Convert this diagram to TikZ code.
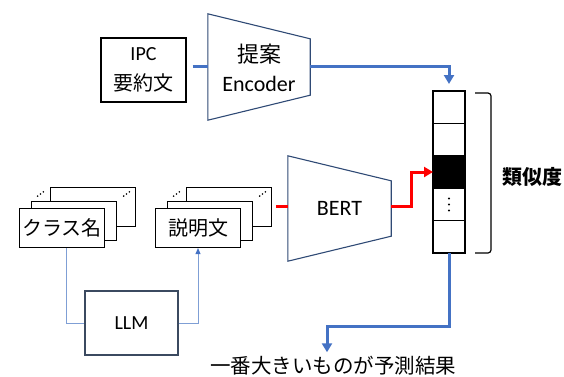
\documentclass[tikz,border=0pt]{standalone}
\usepackage{fontspec}
\setmainfont{Carlito}
\newfontfamily\jp{Noto Sans CJK JP}
\usepackage{tikz}
\usetikzlibrary{positioning,arrows.meta,calc}
\usepackage{xcolor}
\definecolor{lineblue}{HTML}{4472C4}
\definecolor{paleblue}{HTML}{7F9FD5}
\definecolor{trapblue}{HTML}{2F4A75}
\definecolor{slate}{HTML}{3B4A60}

\begin{document}
\begin{tikzpicture}[x=1pt, y=-1pt,
  doc/.style={draw, line width=1.1pt, fill=white, inner sep=0pt,
              minimum width=85pt, minimum height=39pt,
              font=\fontsize{20}{24}\selectfont\jp},
  plain/.style={inner sep=0pt, align=center, font=\fontsize{20}{30}\selectfont},
  big/.style={font=\fontsize{22}{29}\selectfont},
  cell/.style={draw, line width=1.1pt, inner sep=0pt, outer sep=0pt,
               minimum width=32pt, minimum height=32.4pt},
  trap/.style={draw=trapblue, line width=1.1pt, line join=miter},
  blueline/.style={lineblue, line width=3pt},
  bluearrow/.style={lineblue, line width=3pt, -{Triangle[length=9pt,width=10pt]}},
  redarrow/.style={red, line width=3pt, -{Triangle[length=9pt,width=10pt]}},
  thinline/.style={paleblue, line width=0.9pt},
  ]
  \useasboundingbox (0,0) rectangle (564,376);

  % query side
  \node[plain, draw, line width=1.1pt, minimum width=85pt, minimum height=64pt]
    (ipc) at (143.5,70) {IPC\\{\jp 要約文}};
  \node[plain, big, minimum width=102pt, minimum height=56pt] (enc) at (259,68)
    {{\jp 提案}\\Encoder};
  \draw[trap] ($(enc.north east)+(0,-1)$) -- ($(enc.south east)+(0,-1)$)
    -- ($(enc.south west)+(0,24)$) -- ($(enc.north west)+(0,-26)$) -- cycle;

  % class name / description stacks
  \coordinate (kpos) at (62,228);
  \coordinate (spos) at (198,228);
  \node[doc] (k3) at ($(kpos)+(31,-21)$) {};
  \node[doc] (k2) at ($(kpos)+(12,-7)$) {};
  \node[doc] (k1) at (kpos) {クラス名};
  \node[doc] (s3) at ($(spos)+(31,-21)$) {};
  \node[doc] (s2) at ($(spos)+(12,-7)$) {};
  \node[doc] (s1) at (spos) {説明文};
  \foreach \a/\b in {k2/k3, s2/s3} {
    \foreach \t in {0.35,0.5,0.65} {
      \fill ($(\a.north west)!\t!(\b.north west)$) circle (0.9pt);
      \fill ($(\a.north east)!\t!(\b.north east)$) circle (0.9pt);
    }
  }

  \node[plain, draw=slate, line width=1.1pt, minimum width=93pt, minimum height=64pt]
    (llm) at (131.5,323) {LLM};

  \node[plain, big, minimum width=103pt, minimum height=55pt] (bert) at (339.5,208.5) {BERT};
  \draw[trap] (bert.north east) -- (bert.south east) -- ($(bert.south west)+(0,25)$)
    -- ($(bert.north west)+(0,-25)$) -- cycle;

  % similarity vector
  \node[cell] (c1) at (449,107.2) {};
  \node[cell, below=0pt of c1] (c2) {};
  \node[cell, below=0pt of c2, fill=black] (c3) {};
  \node[cell, below=0pt of c3] (c4) {};
  \node[cell, below=0pt of c4] (c5) {};
  \foreach \d in {-6,0,6} \fill (c4.center) ++(0,\d) circle (1.1pt);

  \coordinate (b1) at ($(c1.north east)+(10,2)$);
  \coordinate (b2) at ($(c5.south east)+(10,0)$);
  \draw[line width=1.2pt, rounded corners=3pt] (b1) -- ++(16,0) |- (b2);
  \node[plain, font=\fontsize{20}{24}\selectfont\jp\bfseries] (sim) at (532,177) {類似度};

  \node[plain, font=\fontsize{20.5}{24}\selectfont\jp] (res) at (333,366) {一番大きいものが予測結果};

  % connectors
  \draw[blueline] ($(ipc.east |- enc.west)+(6,-2)$) -- ($(enc.west)+(0,-2)$);
  \draw[bluearrow] ($(enc.east)+(0,-2)$) -| ($(c1.north)+(0,-7)$);
  \draw[thinline] ([xshift=4pt]k1.south) |- (llm.west);
  \draw[thinline, -{Triangle[length=6pt,width=5pt,color=lineblue]}] (llm.east) -| (s1.south);
  \draw[red, line width=3pt] ($(s3.east)+(4,-1)$) -- ($(s3.east -| bert.west)+(0,-1)$);
  \draw[redarrow] ($(s3.east -| bert.east)+(0,-1)$) -- ++(20,0) |- (c3.west);
  \draw[bluearrow] (c5.south) -- ++(0,73) -| ($(res.north)+(-6,-4)$);
\end{tikzpicture}
\end{document}
